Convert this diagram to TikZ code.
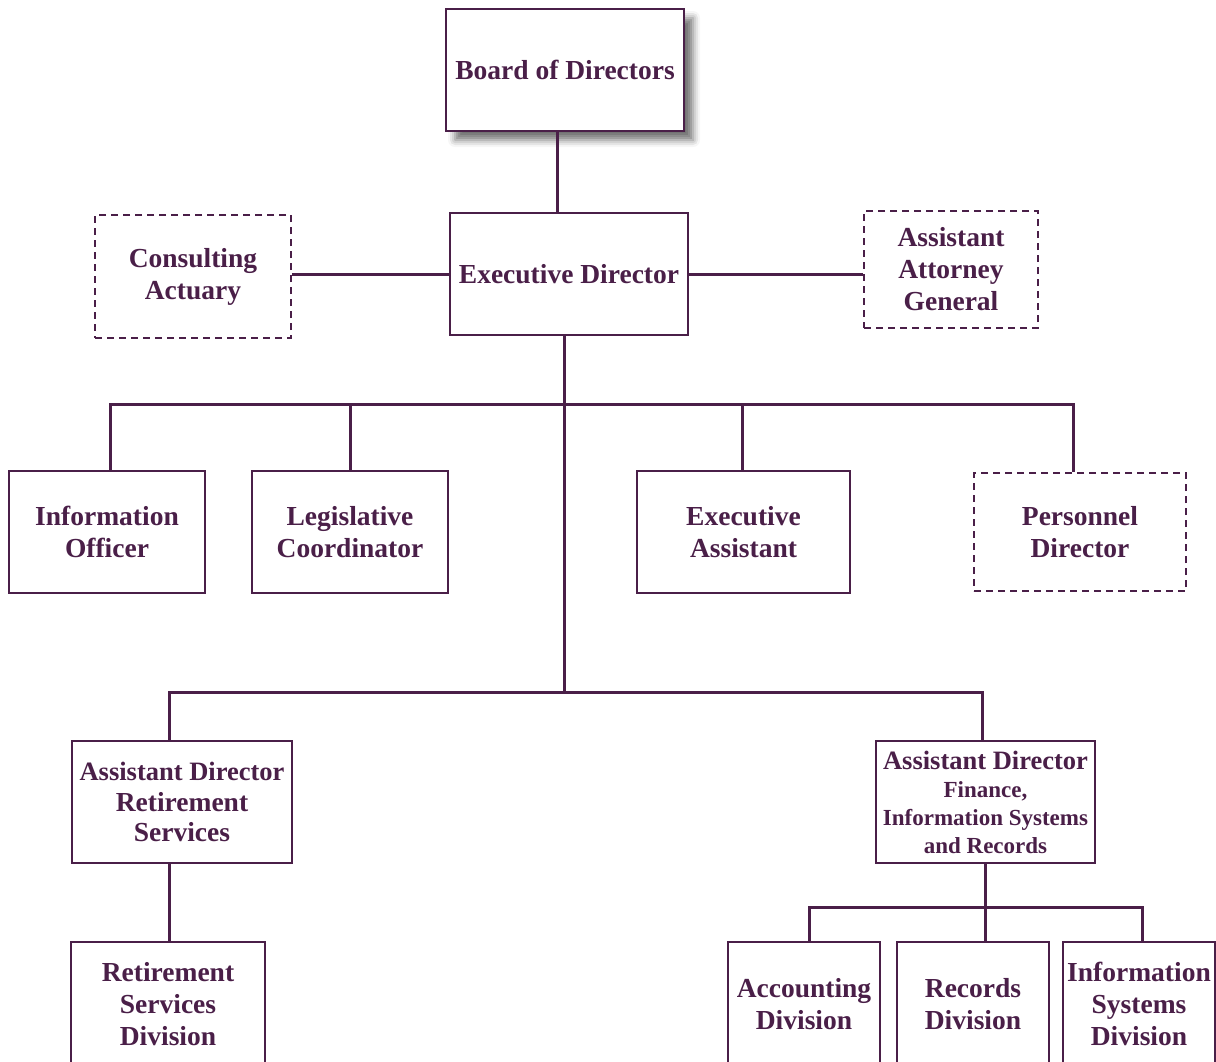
\documentclass[tikz,border=0pt]{standalone}
\usepackage{fontspec}
\setmainfont{Liberation Serif}
\usetikzlibrary{shadows.blur}
\definecolor{plum}{RGB}{74,31,72}
\begin{document}
\begin{tikzpicture}[x=1pt,y=-1pt,
  box/.style={draw=plum,line width=1.8pt,fill=white,text=plum,align=center,inner sep=0pt,
    font=\fontsize{27.5}{32}\selectfont\bfseries},
  dbox/.style={box,dash pattern=on 7pt off 5pt,line width=2.4pt},
  link/.style={draw=plum,line width=3pt}]
\useasboundingbox (0,0) rectangle (1216,1061);
\clip (0,0) rectangle (1216,1061);
% top
\node[box,minimum width=238pt,minimum height=122pt,
  blur shadow={shadow xshift=9pt,shadow yshift=-9pt,shadow blur radius=7pt,shadow opacity=55}]
  (board) at (565,70) {Board of Directors};
\node[box,minimum width=238pt,minimum height=122pt] (exec) at (569,274) {Executive Director};
\node[dbox,minimum width=196pt,minimum height=123pt] (cons) at (193,276.5) {Consulting\\Actuary};
\node[dbox,minimum width=174pt,minimum height=117pt] (aag) at (951,269.5) {Assistant\\Attorney\\General};
% second row
\node[box,minimum width=196pt,minimum height=122pt] (info) at (107,532) {Information\\Officer};
\node[box,minimum width=196pt,minimum height=122pt] (legis) at (350,532) {Legislative\\Coordinator};
\node[box,minimum width=213pt,minimum height=122pt] (eassist) at (743.5,532) {Executive\\Assistant};
\node[dbox,minimum width=212pt,minimum height=118pt] (pers) at (1080,532) {Personnel\\Director};
% assistant directors
\node[box,minimum width=220pt,minimum height=122pt] (adret) at (182,802)
  {{\fontsize{26.5}{32}\selectfont Assistant Director}\\[-1pt]Retirement\\[-2pt]Services};
\node[box,minimum width=219pt,minimum height=122pt] (adfin) at (985.5,802)
  {{\fontsize{26.5}{32}\selectfont Assistant Director}\\[-4pt]{\fontsize{23}{28}\selectfont Finance,}\\[-4pt]{\fontsize{23}{28}\selectfont Information Systems}\\[-4pt]{\fontsize{23}{28}\selectfont and Records}};
% divisions (open at the bottom edge of the picture)
\node[box,minimum width=194pt,minimum height=124pt] (retdiv) at (168,1004) {Retirement\\Services\\Division};
\node[box,minimum width=152pt,minimum height=124pt] (acct) at (804,1004) {Accounting\\Division};
\node[box,minimum width=152pt,minimum height=124pt] (rec) at (973,1004) {Records\\Division};
\node[box,minimum width=152pt,minimum height=124pt] (isd) at (1139,1004) {Information\\Systems\\Division};
% junction coordinates
\coordinate (cb) at (557,0);
\coordinate (t1) at (564,404);
\coordinate (t2) at (564,692);
\coordinate (d1) at (110,404);
\coordinate (d2) at (742,404);
\coordinate (d3) at (1073,404);
\coordinate (e1) at (169,692);
\coordinate (e2) at (982,692);
\coordinate (f0) at (985,907);
\coordinate (f1) at (809,907);
\coordinate (f2) at (1142,907);
% connectors
\draw[link] (board.south -| cb) -- (exec.north -| cb);
\draw[link] (exec.west) -- (exec.west -| cons.east);
\draw[link] (exec.east) -- (exec.east -| aag.west);
\draw[link] (exec.south -| t1) -- (t2);
\draw[link,line cap=rect] (d1) -- (d3);
\draw[link] (d1) -- (d1 |- info.north);
\draw[link] (legis.north) -- (legis.north |- t1);
\draw[link] (d2) -- (d2 |- eassist.north);
\draw[link] (d3) -- (d3 |- pers.north);
\draw[link,line cap=rect] (e1) -- (e2);
\draw[link] (e1) -- (e1 |- adret.north);
\draw[link] (e2) -- (e2 |- adfin.north);
\draw[link] (adret.south -| e1) -- (retdiv.north -| e1);
\draw[link] (adfin.south -| f0) -- (f0 |- rec.north);
\draw[link,line cap=rect] (f1) -- (f2);
\draw[link] (f1) -- (f1 |- acct.north);
\draw[link] (f2) -- (f2 |- isd.north);
\end{tikzpicture}
\end{document}
